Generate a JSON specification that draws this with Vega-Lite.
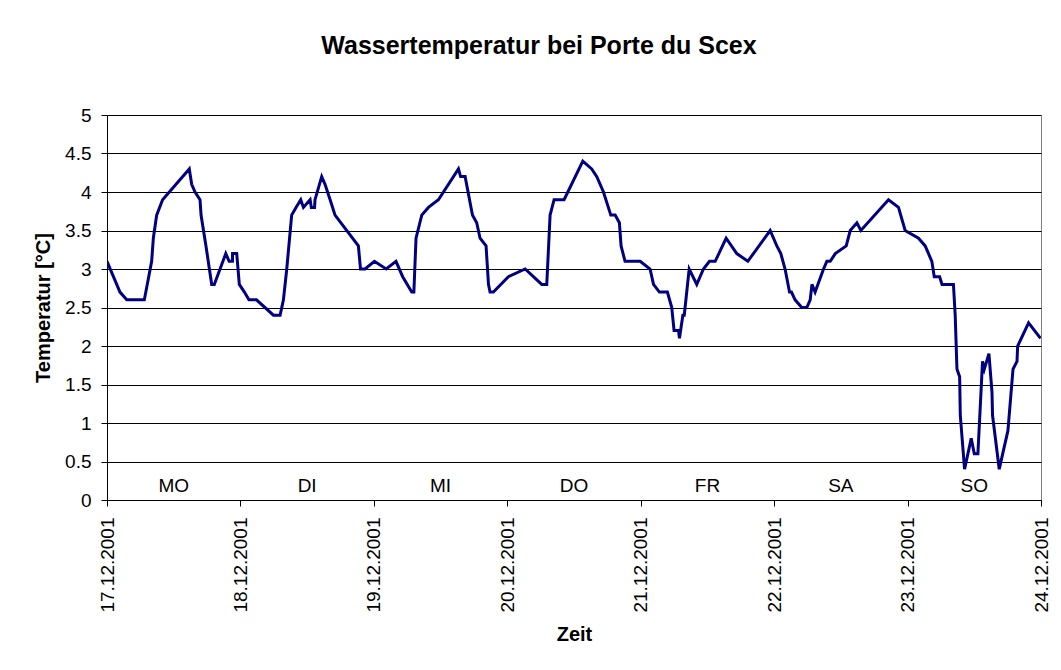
{
  "$schema": "https://vega.github.io/schema/vega-lite/v6.json",
  "autosize": "none",
  "width": 934,
  "height": 385,
  "padding": {"left": 107, "top": 115, "right": 20, "bottom": 170},
  "background": "white",
  "config": {
    "font": "Liberation Sans",
    "view": {"stroke": "#808080", "strokeWidth": 1},
    "axis": {"domainColor": "black", "tickColor": "black", "labelColor": "black", "titleColor": "black"}
  },
  "title": {
    "text": "Wassertemperatur bei Porte du Scex",
    "fontSize": 25,
    "fontWeight": "bold",
    "color": "black",
    "anchor": "middle",
    "baseline": "alphabetic",
    "offset": 27,
    "dx": -35
  },
  "encoding": {
    "x": {
      "field": "t",
      "type": "temporal",
      "scale": {"domain": [{"year": 2001, "month": 12, "date": 17}, {"year": 2001, "month": 12, "date": 24}]},
      "axis": {
        "title": "Zeit",
        "titleFontSize": 20,
        "titleFontWeight": "bold",
        "titlePadding": 12,
        "format": "%d.%m.%Y",
        "values": [
          {"year": 2001, "month": 12, "date": 17},
          {"year": 2001, "month": 12, "date": 18},
          {"year": 2001, "month": 12, "date": 19},
          {"year": 2001, "month": 12, "date": 20},
          {"year": 2001, "month": 12, "date": 21},
          {"year": 2001, "month": 12, "date": 22},
          {"year": 2001, "month": 12, "date": 23},
          {"year": 2001, "month": 12, "date": 24}
        ],
        "labelAngle": 270,
        "labelAlign": "right",
        "labelBaseline": "middle",
        "labelFontSize": 19,
        "labelPadding": 11,
        "labelOverlap": false,
        "labelFlush": false,
        "tickSize": 6,
        "grid": false
      }
    },
    "y": {
      "field": "v",
      "type": "quantitative",
      "scale": {"domain": [0, 5], "nice": false},
      "axis": {
        "title": "Temperatur [°C]",
        "titleFontSize": 20,
        "titleFontWeight": "bold",
        "titlePadding": 11,
        "values": [0, 0.5, 1, 1.5, 2, 2.5, 3, 3.5, 4, 4.5, 5],
        "format": "~g",
        "labelFontSize": 19,
        "labelPadding": 10,
        "labelOverlap": false,
        "labelFlush": false,
        "tickSize": 6,
        "grid": true,
        "gridColor": "black",
        "gridWidth": 1,
        "gridOpacity": 1
      }
    }
  },
  "layer": [
    {
      "data": {
        "values": [
          {"t": "2001-12-17T00:00", "v": 3.1},
          {"t": "2001-12-17T02:20", "v": 2.7},
          {"t": "2001-12-17T03:33", "v": 2.6},
          {"t": "2001-12-17T06:43", "v": 2.6},
          {"t": "2001-12-17T08:02", "v": 3.1},
          {"t": "2001-12-17T08:20", "v": 3.4},
          {"t": "2001-12-17T08:56", "v": 3.7},
          {"t": "2001-12-17T10:00", "v": 3.9},
          {"t": "2001-12-17T14:48", "v": 4.3},
          {"t": "2001-12-17T15:14", "v": 4.1},
          {"t": "2001-12-17T15:50", "v": 4.0},
          {"t": "2001-12-17T16:44", "v": 3.9},
          {"t": "2001-12-17T16:55", "v": 3.7},
          {"t": "2001-12-17T17:48", "v": 3.3},
          {"t": "2001-12-17T18:25", "v": 3.0},
          {"t": "2001-12-17T18:50", "v": 2.8},
          {"t": "2001-12-17T19:18", "v": 2.8},
          {"t": "2001-12-17T21:22", "v": 3.2},
          {"t": "2001-12-17T21:58", "v": 3.1},
          {"t": "2001-12-17T22:34", "v": 3.1},
          {"t": "2001-12-17T22:35", "v": 3.2},
          {"t": "2001-12-17T23:20", "v": 3.2},
          {"t": "2001-12-17T23:48", "v": 2.8},
          {"t": "2001-12-18T00:43", "v": 2.7},
          {"t": "2001-12-18T01:32", "v": 2.6},
          {"t": "2001-12-18T02:53", "v": 2.6},
          {"t": "2001-12-18T05:56", "v": 2.4},
          {"t": "2001-12-18T07:08", "v": 2.4},
          {"t": "2001-12-18T07:44", "v": 2.6},
          {"t": "2001-12-18T08:20", "v": 3.0},
          {"t": "2001-12-18T09:13", "v": 3.7},
          {"t": "2001-12-18T10:00", "v": 3.8},
          {"t": "2001-12-18T10:51", "v": 3.9},
          {"t": "2001-12-18T11:20", "v": 3.8},
          {"t": "2001-12-18T12:32", "v": 3.9},
          {"t": "2001-12-18T12:45", "v": 3.8},
          {"t": "2001-12-18T13:20", "v": 3.8},
          {"t": "2001-12-18T13:25", "v": 3.9},
          {"t": "2001-12-18T14:37", "v": 4.2},
          {"t": "2001-12-18T15:13", "v": 4.1},
          {"t": "2001-12-18T16:08", "v": 3.9},
          {"t": "2001-12-18T17:01", "v": 3.7},
          {"t": "2001-12-18T21:13", "v": 3.3},
          {"t": "2001-12-18T21:36", "v": 3.0},
          {"t": "2001-12-18T22:25", "v": 3.0},
          {"t": "2001-12-19T00:06", "v": 3.1},
          {"t": "2001-12-19T02:13", "v": 3.0},
          {"t": "2001-12-19T03:59", "v": 3.1},
          {"t": "2001-12-19T05:11", "v": 2.9},
          {"t": "2001-12-19T06:49", "v": 2.7},
          {"t": "2001-12-19T07:12", "v": 2.7},
          {"t": "2001-12-19T07:35", "v": 3.4},
          {"t": "2001-12-19T08:37", "v": 3.7},
          {"t": "2001-12-19T09:49", "v": 3.8},
          {"t": "2001-12-19T11:37", "v": 3.9},
          {"t": "2001-12-19T15:13", "v": 4.3},
          {"t": "2001-12-19T15:36", "v": 4.2},
          {"t": "2001-12-19T16:25", "v": 4.2},
          {"t": "2001-12-19T17:44", "v": 3.7},
          {"t": "2001-12-19T18:30", "v": 3.6},
          {"t": "2001-12-19T19:06", "v": 3.4},
          {"t": "2001-12-19T20:11", "v": 3.3},
          {"t": "2001-12-19T20:37", "v": 2.8},
          {"t": "2001-12-19T20:54", "v": 2.7},
          {"t": "2001-12-19T21:30", "v": 2.7},
          {"t": "2001-12-20T00:12", "v": 2.9},
          {"t": "2001-12-20T03:13", "v": 3.0},
          {"t": "2001-12-20T06:12", "v": 2.8},
          {"t": "2001-12-20T07:06", "v": 2.8},
          {"t": "2001-12-20T07:42", "v": 3.7},
          {"t": "2001-12-20T08:25", "v": 3.9},
          {"t": "2001-12-20T10:13", "v": 3.9},
          {"t": "2001-12-20T13:35", "v": 4.4},
          {"t": "2001-12-20T15:11", "v": 4.3},
          {"t": "2001-12-20T16:06", "v": 4.2},
          {"t": "2001-12-20T17:18", "v": 4.0},
          {"t": "2001-12-20T18:37", "v": 3.7},
          {"t": "2001-12-20T19:24", "v": 3.7},
          {"t": "2001-12-20T20:10", "v": 3.6},
          {"t": "2001-12-20T20:28", "v": 3.3},
          {"t": "2001-12-20T21:11", "v": 3.1},
          {"t": "2001-12-20T23:54", "v": 3.1},
          {"t": "2001-12-21T01:41", "v": 3.0},
          {"t": "2001-12-21T02:18", "v": 2.8},
          {"t": "2001-12-21T03:22", "v": 2.7},
          {"t": "2001-12-21T04:48", "v": 2.7},
          {"t": "2001-12-21T05:35", "v": 2.5},
          {"t": "2001-12-21T06:00", "v": 2.2},
          {"t": "2001-12-21T06:48", "v": 2.2},
          {"t": "2001-12-21T06:58", "v": 2.1},
          {"t": "2001-12-21T07:35", "v": 2.4},
          {"t": "2001-12-21T07:50", "v": 2.4},
          {"t": "2001-12-21T08:43", "v": 3.0},
          {"t": "2001-12-21T10:05", "v": 2.8},
          {"t": "2001-12-21T11:17", "v": 3.0},
          {"t": "2001-12-21T12:22", "v": 3.1},
          {"t": "2001-12-21T13:24", "v": 3.1},
          {"t": "2001-12-21T15:22", "v": 3.4},
          {"t": "2001-12-21T17:17", "v": 3.2},
          {"t": "2001-12-21T19:16", "v": 3.1},
          {"t": "2001-12-21T23:17", "v": 3.5},
          {"t": "2001-12-22T00:29", "v": 3.3},
          {"t": "2001-12-22T01:12", "v": 3.2},
          {"t": "2001-12-22T01:58", "v": 3.0},
          {"t": "2001-12-22T02:46", "v": 2.7},
          {"t": "2001-12-22T03:07", "v": 2.7},
          {"t": "2001-12-22T03:46", "v": 2.6},
          {"t": "2001-12-22T04:58", "v": 2.5},
          {"t": "2001-12-22T05:53", "v": 2.5},
          {"t": "2001-12-22T06:29", "v": 2.6},
          {"t": "2001-12-22T06:48", "v": 2.8},
          {"t": "2001-12-22T07:22", "v": 2.7},
          {"t": "2001-12-22T08:53", "v": 3.0},
          {"t": "2001-12-22T09:29", "v": 3.1},
          {"t": "2001-12-22T10:05", "v": 3.1},
          {"t": "2001-12-22T11:00", "v": 3.2},
          {"t": "2001-12-22T12:58", "v": 3.3},
          {"t": "2001-12-22T13:41", "v": 3.5},
          {"t": "2001-12-22T14:53", "v": 3.6},
          {"t": "2001-12-22T15:36", "v": 3.5},
          {"t": "2001-12-22T20:34", "v": 3.9},
          {"t": "2001-12-22T22:22", "v": 3.8},
          {"t": "2001-12-22T23:34", "v": 3.5},
          {"t": "2001-12-23T01:58", "v": 3.4},
          {"t": "2001-12-23T03:10", "v": 3.3},
          {"t": "2001-12-23T04:22", "v": 3.1},
          {"t": "2001-12-23T04:48", "v": 2.9},
          {"t": "2001-12-23T05:46", "v": 2.9},
          {"t": "2001-12-23T06:12", "v": 2.8},
          {"t": "2001-12-23T08:15", "v": 2.8},
          {"t": "2001-12-23T08:34", "v": 2.4},
          {"t": "2001-12-23T08:53", "v": 1.7},
          {"t": "2001-12-23T09:22", "v": 1.6},
          {"t": "2001-12-23T09:29", "v": 1.1},
          {"t": "2001-12-23T10:15", "v": 0.4},
          {"t": "2001-12-23T11:27", "v": 0.8},
          {"t": "2001-12-23T12:00", "v": 0.6},
          {"t": "2001-12-23T12:39", "v": 0.6},
          {"t": "2001-12-23T13:29", "v": 1.8},
          {"t": "2001-12-23T13:48", "v": 1.7},
          {"t": "2001-12-23T14:38", "v": 1.9},
          {"t": "2001-12-23T15:11", "v": 1.4},
          {"t": "2001-12-23T15:17", "v": 1.1},
          {"t": "2001-12-23T16:29", "v": 0.4},
          {"t": "2001-12-23T18:03", "v": 0.9},
          {"t": "2001-12-23T18:58", "v": 1.7},
          {"t": "2001-12-23T19:41", "v": 1.8},
          {"t": "2001-12-23T19:48", "v": 2.0},
          {"t": "2001-12-23T21:46", "v": 2.3},
          {"t": "2001-12-23T23:55", "v": 2.1}
        ]
      },
      "mark": {"type": "line", "color": "#000080", "strokeWidth": 3, "clip": true}
    },
    {
      "data": {
        "values": [
          {"t": "2001-12-17T12:00", "tag": "MO", "v": 0.1},
          {"t": "2001-12-18T12:00", "tag": "DI", "v": 0.1},
          {"t": "2001-12-19T12:00", "tag": "MI", "v": 0.1},
          {"t": "2001-12-20T12:00", "tag": "DO", "v": 0.1},
          {"t": "2001-12-21T12:00", "tag": "FR", "v": 0.1},
          {"t": "2001-12-22T12:00", "tag": "SA", "v": 0.1},
          {"t": "2001-12-23T12:00", "tag": "SO", "v": 0.1}
        ]
      },
      "mark": {"type": "text", "fontSize": 19, "color": "black", "baseline": "alphabetic", "align": "center"},
      "encoding": {
        "text": {"field": "tag"}
      }
    }
  ]
}
